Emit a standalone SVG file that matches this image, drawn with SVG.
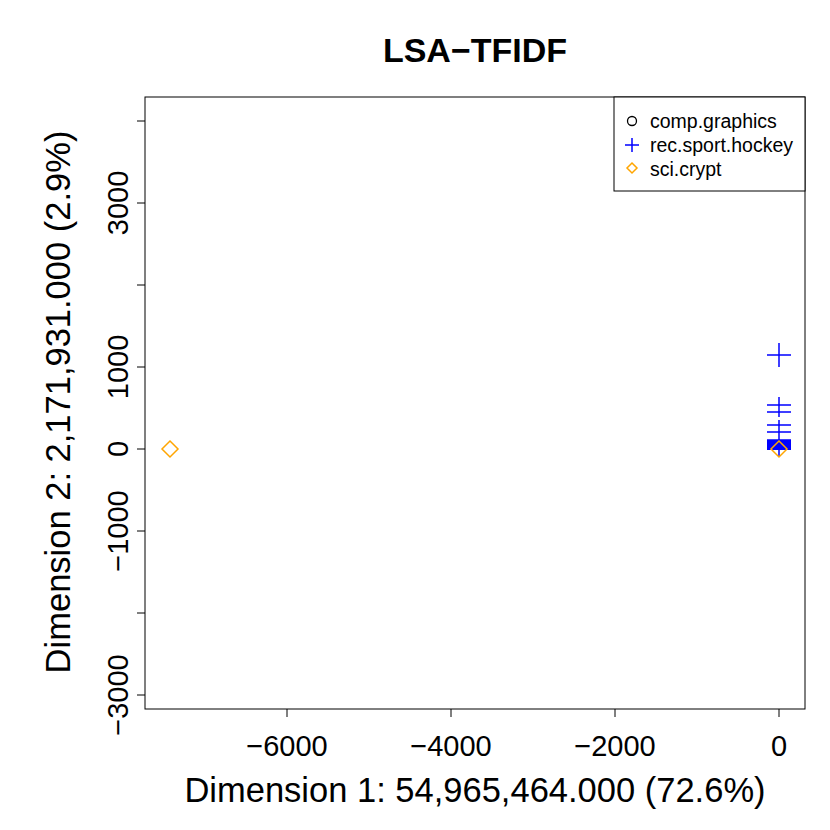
<svg xmlns="http://www.w3.org/2000/svg" width="830" height="830" viewBox="0 0 830 830">
<style>
text{font-family:"Liberation Sans",Arial,sans-serif;fill:#000}
.ax{stroke:#000;stroke-width:1;fill:none}
.tl{font-size:29px;text-anchor:middle}
.h{stroke:#00f;stroke-width:1.5}
.d{stroke:#ffa500;stroke-width:1.5;fill:none}
.lg{font-size:19.5px}
</style>
<rect width="830" height="830" fill="#fff"/>
<text x="475" y="62" font-size="34" font-weight="bold" text-anchor="middle">LSA−TFIDF</text>
<g id="axes" class="ax">
<rect x="145" y="97" width="660" height="612"/>
<path d="M287 709v8M451 709v8M615 709v8M779 709v8M145 695h-8M145 613h-8M145 531h-8M145 449h-8M145 367h-8M145 285h-8M145 203h-8M145 121h-8"/>
</g>
<g id="xticks" class="tl">
<text x="287" y="756">−6000</text><text x="451" y="756">−4000</text><text x="615" y="756">−2000</text><text x="779" y="756">0</text>
</g>
<g id="yticks" class="tl">
<text transform="translate(128,695) rotate(-90)">−3000</text>
<text transform="translate(128,531) rotate(-90)">−1000</text>
<text transform="translate(128,449) rotate(-90)">0</text>
<text transform="translate(128,367) rotate(-90)">1000</text>
<text transform="translate(128,203) rotate(-90)">3000</text>
</g>
<text x="475" y="802" font-size="34.5" text-anchor="middle">Dimension 1: 54,965,464.000 (72.6%)</text>
<text transform="translate(70,402) rotate(-90)" font-size="34.5" text-anchor="middle">Dimension 2: 2,171,931.000 (2.9%)</text>
<g id="hockey" class="h">
<path d="M767 355h24M779 343v24M767 405h24M779 397v20M767 412h24M767 425h24M767 432h24M779 420v36M767 440h24M767 445h24"/>
<rect x="767" y="440" width="24" height="10" fill="#00f" stroke="none"/>
</g>
<g id="crypt" class="d">
<path d="M170 441l8 8-8 8-8-8z"/>
<path d="M779 441l8 8-8 8-8-8z"/>
</g>
<g id="legend">
<rect x="614" y="97" width="191" height="94" fill="#fff" stroke="#000"/>
<circle cx="632" cy="121" r="4.5" fill="none" stroke="#000" stroke-width="1.3"/>
<path d="M625 145h14M632 138v14" class="h"/>
<path d="M632 163l5 5-5 5-5-5z" class="d"/>
<text x="650" y="128" class="lg">comp.graphics</text>
<text x="650" y="152" class="lg">rec.sport.hockey</text>
<text x="650" y="176" class="lg">sci.crypt</text>
</g>
</svg>
